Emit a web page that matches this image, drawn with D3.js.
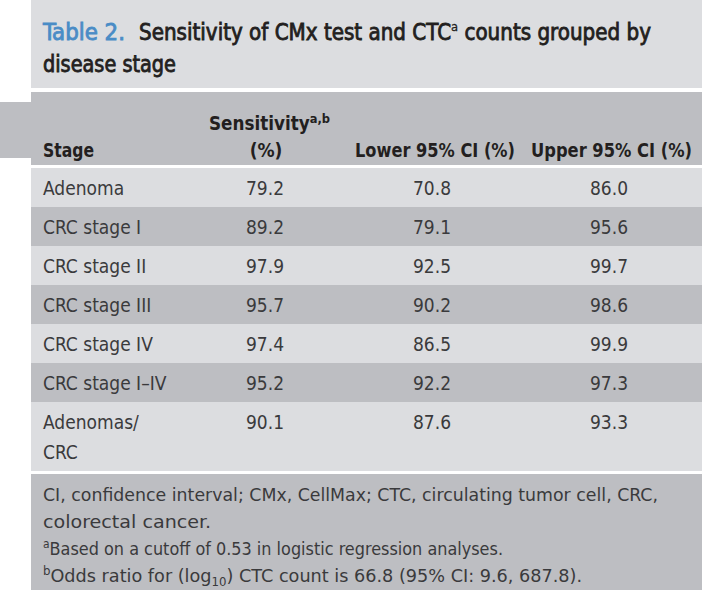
<!DOCTYPE html>
<html><head><meta charset="utf-8">
<script src="https://cdn.jsdelivr.net/npm/d3@7"></script>
<style>
html,body{margin:0;padding:0;background:#fff;}
svg{display:block;}
text{font-family:"DejaVu Sans Condensed","Liberation Sans Narrow",sans-serif;}
</style></head>
<body>
<svg id="chart" width="702" height="597"></svg>
<script>
// ---- data ----
const titleLabel = "Table 2.";
const titleLines = ["Sensitivity of CMx test and CTC", "counts grouped by", "disease stage"];
const headers = ["Stage", "Sensitivity", "(%)", "Lower 95% CI (%)", "Upper 95% CI (%)"];
const stages = ["Adenoma", "CRC stage I", "CRC stage II", "CRC stage III", "CRC stage IV", "CRC stage I\u2013IV", "Adenomas/\nCRC"];
const sensitivity = ["79.2", "89.2", "97.9", "95.7", "97.4", "95.2", "90.1"];
const lowerCI = ["70.8", "79.1", "92.5", "90.2", "86.5", "92.2", "87.6"];
const upperCI = ["86.0", "95.6", "99.7", "98.6", "99.9", "97.3", "93.3"];
const footnotes = [
  "CI, confidence interval; CMx, CellMax; CTC, circulating tumor cell, CRC,",
  "colorectal cancer."
];

// ---- layout ----
const W = 702, H = 597;
const svg = d3.select("#chart");
const light = "#dcdde0", dark = "#bdbec2", blue = "#4a8cc6", ink = "#231f20", body = "#3a3a3c";
const left = 31;
const fitTo = (sel, w) => sel.attr("textLength", w).attr("lengthAdjust", "spacingAndGlyphs");

// title panel
svg.append("rect").attr("x", left).attr("y", 0).attr("width", W - left).attr("height", 88).attr("fill", light);
const tl = svg.append("text").attr("x", 43).attr("y", 40).attr("font-size", 22.5).attr("fill", blue)
  .attr("stroke", blue).attr("stroke-width", 0.8).text(titleLabel);
fitTo(tl, 82);
const t1 = svg.append("text").attr("x", 139).attr("y", 40).attr("font-size", 22.5).attr("fill", ink)
  .attr("stroke", ink).attr("stroke-width", 0.8);
t1.append("tspan").text(titleLines[0]);
t1.append("tspan").attr("font-size", 13).attr("dy", -9).attr("stroke-width", 0.3).text("a");
t1.append("tspan").attr("dy", 9).text(" " + titleLines[1]);
fitTo(t1, 512);
const t2 = svg.append("text").attr("x", 43).attr("y", 72).attr("font-size", 22.5).attr("fill", ink)
  .attr("stroke", ink).attr("stroke-width", 0.8).text(titleLines[2]);
fitTo(t2, 133);

// header band
svg.append("rect").attr("x", 0).attr("y", 102).attr("width", left + 1).attr("height", 56).attr("fill", dark);
svg.append("rect").attr("x", left).attr("y", 92).attr("width", W - left).attr("height", 73).attr("fill", dark);

// columns
const colX = d3.scaleOrdinal().domain(["stage", "sens", "lower", "upper"]).range([43, 246, 413, 590]);
const hdr = svg.append("g").attr("font-size", 19).attr("font-weight", "bold").attr("fill", ink);
fitTo(hdr.append("text").attr("x", colX("stage")).attr("y", 157).text(headers[0]), 51);
const sh = hdr.append("text").attr("x", 209).attr("y", 130);
sh.append("tspan").text(headers[1]);
sh.append("tspan").attr("font-size", 13).attr("dy", -7).text("a,b");
fitTo(sh, 121);
hdr.append("text").attr("x", 266).attr("y", 157).attr("text-anchor", "middle").text(headers[2]);
fitTo(hdr.append("text").attr("x", 355).attr("y", 157).text(headers[3]), 160);
fitTo(hdr.append("text").attr("x", 531).attr("y", 157).text(headers[4]), 161);

// rows
const lines = stages.map(s => s.split("\n").length);
const heights = lines.map(n => 9 + 30 * n);
const tops = d3.cumsum([0].concat(heights)).slice(0, stages.length);
const y = d3.scaleLinear().domain([0, 1]).range([168, 169]);
const rows = svg.append("g").selectAll("g").data(stages).join("g")
  .attr("transform", (d, i) => `translate(0,${y(tops[i])})`);
rows.append("rect").attr("x", left).attr("y", 0).attr("width", W - left)
  .attr("height", (d, i) => heights[i]).attr("fill", (d, i) => i % 2 ? dark : light);
const cellText = (sel, x, vals) => {
  sel.append("text").attr("x", x).attr("y", 27).attr("font-size", 19).attr("fill", body)
    .each(function(d, i) {
      const parts = vals[i].split("\n");
      d3.select(this).selectAll("tspan").data(parts).join("tspan")
        .attr("x", x).attr("dy", (p, j) => j ? 30 : 0).text(p => p);
    });
};
cellText(rows, colX("stage"), stages);
cellText(rows, colX("sens"), sensitivity);
cellText(rows, colX("lower"), lowerCI);
cellText(rows, colX("upper"), upperCI);

// footer
const fTop = y(tops[tops.length - 1] + heights[heights.length - 1]) + 3;
svg.append("rect").attr("x", left).attr("y", fTop).attr("width", W - left).attr("height", 590 - fTop).attr("fill", dark);
const foot = svg.append("g").attr("font-size", 18).attr("fill", body);
const fw = [615, 168];
footnotes.forEach((f, i) => fitTo(foot.append("text").attr("x", 43).attr("y", fTop + 27 + 27 * i).text(f), fw[i]));
const fa = foot.append("text").attr("x", 43).attr("y", fTop + 27 + 27 * 2);
fa.append("tspan").attr("font-size", 12).attr("dy", -7).text("a");
fa.append("tspan").attr("dy", 7).text("Based on a cutoff of 0.53 in logistic regression analyses.");
fitTo(fa, 460);
const fb = foot.append("text").attr("x", 43).attr("y", fTop + 27 + 27 * 3);
fb.append("tspan").attr("font-size", 12).attr("dy", -7).text("b");
fb.append("tspan").attr("dy", 7).text("Odds ratio for (log");
fb.append("tspan").attr("font-size", 12).attr("dy", 4).text("10");
fb.append("tspan").attr("dy", -4).text(") CTC count is 66.8 (95% CI: 9.6, 687.8).");
fitTo(fb, 539);
</script>
</body></html>
